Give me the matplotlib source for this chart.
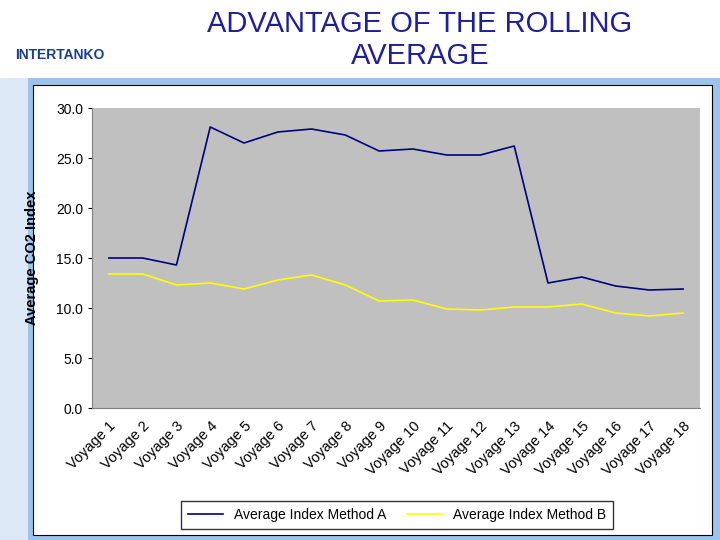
import matplotlib.pyplot as plt
from matplotlib.patches import Rectangle

plt.rcParams['font.family'] = ['Liberation Sans', 'DejaVu Sans']

# data
voyages = [f"Voyage {i}" for i in range(1, 19)]
method_a = [15.0, 15.0, 14.3, 28.1, 26.5, 27.6, 27.9, 27.3, 25.7, 25.9, 25.3, 25.3, 26.2, 12.5, 13.1, 12.2, 11.8, 11.9]
method_b = [13.4, 13.4, 12.3, 12.5, 11.9, 12.8, 13.3, 12.3, 10.7, 10.8, 9.9, 9.8, 10.1, 10.1, 10.4, 9.5, 9.2, 9.5]
yticks = [0, 5, 10, 15, 20, 25, 30]

W, H = 720, 540
fig = plt.figure(figsize=(7.2, 5.4), dpi=100)
fig.patch.set_facecolor('white')

def box(x0, y0, x1, y1, **kw):
    # pixel coords (top-left origin) -> figure fraction
    fig.patches.append(Rectangle((x0 / W, 1 - y1 / H), (x1 - x0) / W, (y1 - y0) / H,
                                 transform=fig.transFigure, zorder=-5, **kw))

# slide decoration
box(28, 78, 720, 540, facecolor='#9CC3EC', edgecolor='none')
box(0, 78, 28, 540, facecolor='#DCE8F6', edgecolor='none')
box(33, 85, 712, 535, facecolor='white', edgecolor='black', linewidth=0.8)

fig.text(60 / W, 1 - 55 / H, 'INTERTANKO', ha='center', va='center', fontsize=10,
         fontweight='bold', color='#1B3E8C')
fig.text(420 / W, 1 - 40 / H, 'ADVANTAGE OF THE ROLLING\nAVERAGE', ha='center', va='center',
         fontsize=21, color='#1F1F9E', linespacing=1.15)

ax = fig.add_axes([92 / W, 1 - 408 / H, 608 / W, 300 / H])
ax.set_facecolor('#C0C0C0')
x = range(len(voyages))
ax.plot(x, method_a, color='#000080', lw=1.2, label='Average Index Method A')
ax.plot(x, method_b, color='#FFFF00', lw=1.2, label='Average Index Method B')
ax.set_xlim(-0.5, len(voyages) - 0.5)
ax.set_ylim(0, 30)
ax.set_yticks(yticks, [f"{v:.1f}" for v in yticks], fontsize=10)
ax.set_xticks(list(x), voyages, rotation=45, ha='right', rotation_mode='anchor', fontsize=10.5)
ax.tick_params(axis='x', length=0, pad=8)
ax.tick_params(axis='y', length=3)
for s in ['top', 'right']:
    ax.spines[s].set_visible(False)
ax.spines['bottom'].set_color('#808080')
ax.spines['left'].set_color('#808080')
ax.set_ylabel('Average CO2 Index', fontsize=10.5, fontweight='bold', labelpad=12)

fig.legend(loc='center', bbox_to_anchor=(397 / W, 1 - 515 / H), ncol=2, fontsize=10,
           frameon=True, fancybox=False, edgecolor='black', handlelength=2.5,
           columnspacing=1.5, borderpad=0.5)

fig.savefig('out.png', dpi=100)
